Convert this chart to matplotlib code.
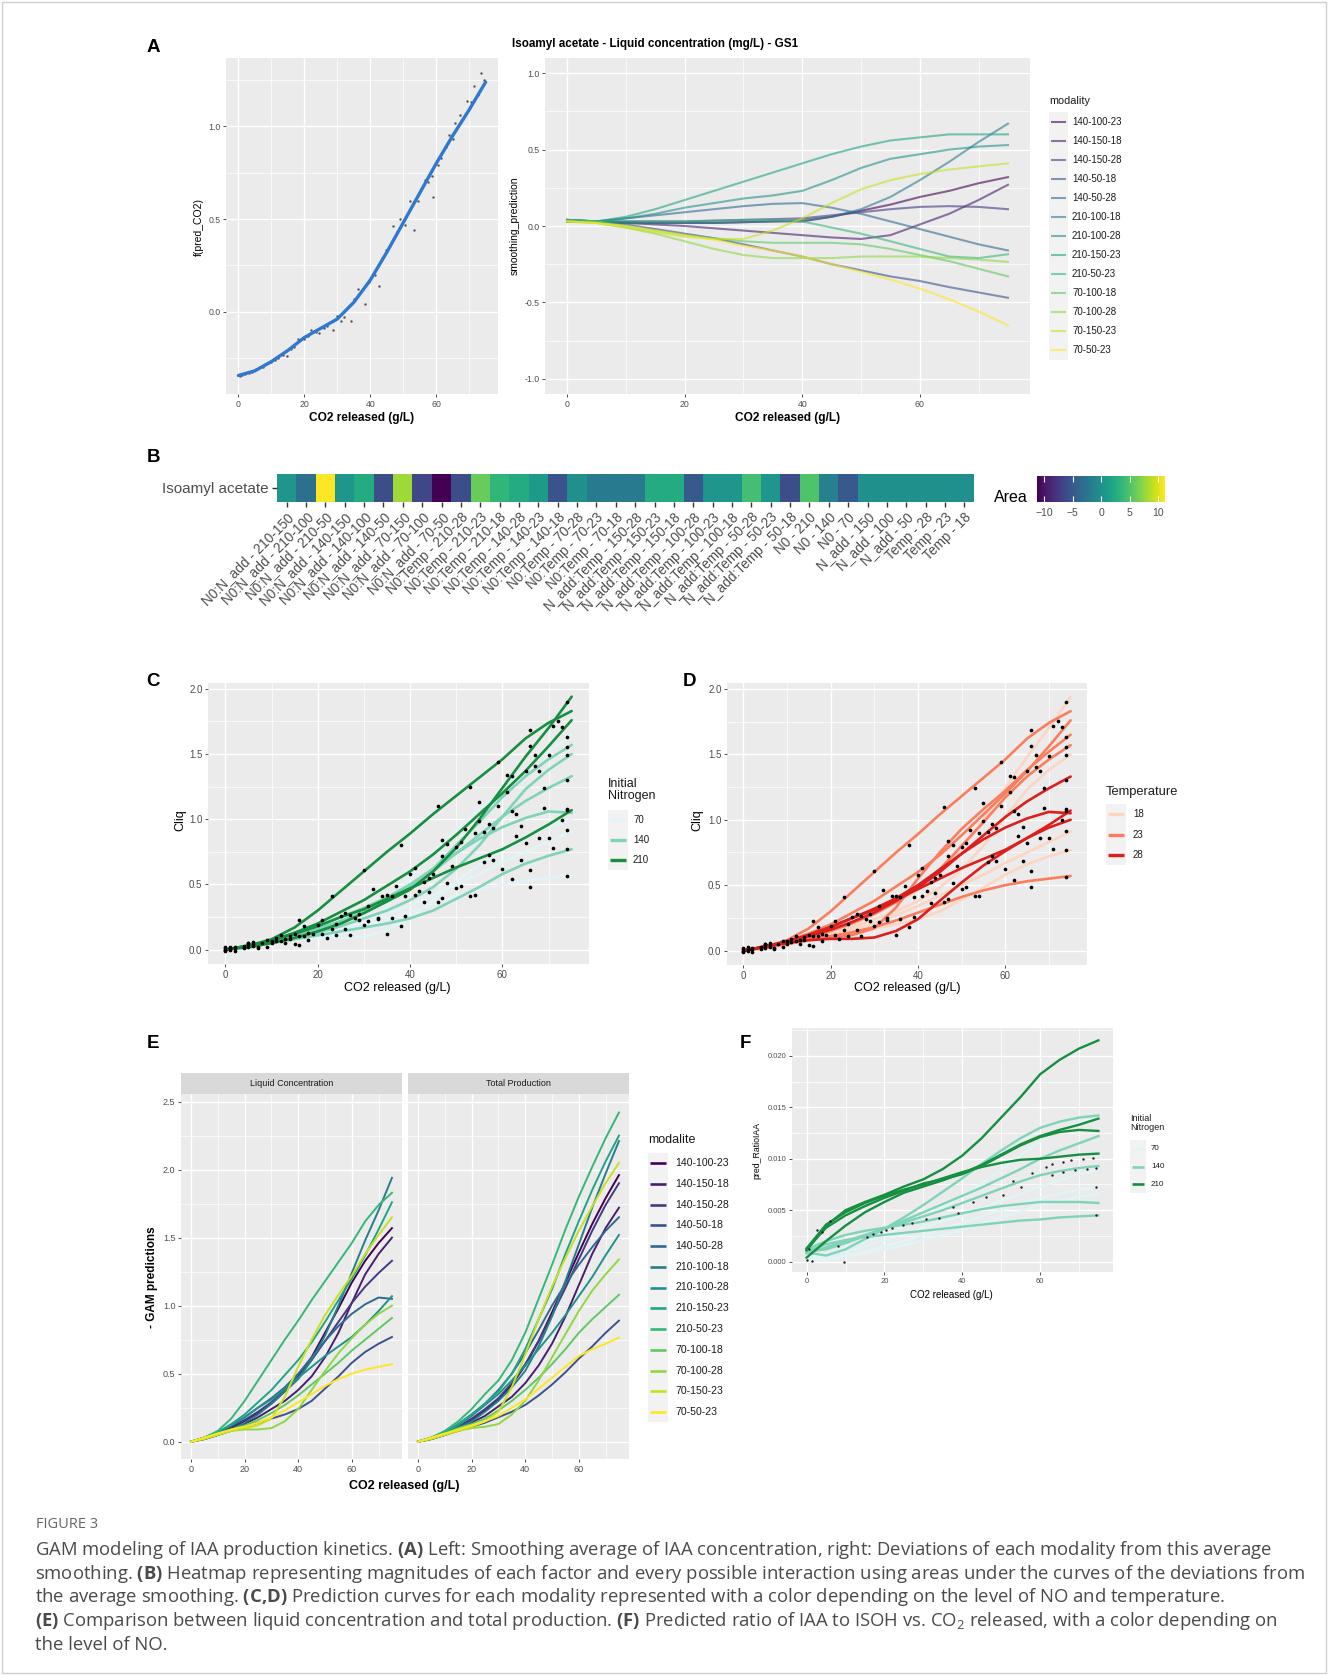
import numpy as np
import matplotlib
matplotlib.use("Agg")
import matplotlib.pyplot as plt
from matplotlib.patches import Rectangle
from matplotlib.lines import Line2D

# ---------------------------------------------------------------- data
modalities = ['140-100-23', '140-150-18', '140-150-28', '140-50-18', '140-50-28',
              '210-100-18', '210-100-28', '210-150-23', '210-50-23',
              '70-100-18', '70-100-28', '70-150-23', '70-50-23']
grid_x = [0, 5, 10, 15, 20, 25, 30, 35, 40, 45, 50, 55, 60, 65, 70, 75]

# Panel A left: average smoothing + observations
avg_smooth_y = [-0.345, -0.32, -0.27, -0.21, -0.14, -0.09, -0.04, 0.05, 0.17, 0.32,
                0.48, 0.64, 0.80, 0.95, 1.09, 1.24]
avg_pts_x = [0.6, 1.2, 2.1, 3.2, 4.0, 5.3, 6.5, 7.5, 9.0, 10, 11, 12, 13.5, 14.9, 16, 17, 18.1,
             20, 21, 22, 23.5, 24.5, 26, 27, 28.8, 29.9, 31, 32, 34.1, 35, 36.2, 38.4, 39.5,
             40.5, 41.5, 42.6, 43.5, 44.8, 46, 46.9, 48, 49, 50.5, 52.2, 53.3, 54.4, 55.5, 56.5,
             57.5, 58.6, 59, 60.5, 61.4, 62.9, 64, 65, 65.7, 67.2, 68, 69.3, 70.5, 71.4, 72.7,
             73.6, 74.5]
avg_pts_y = [-0.35, -0.34, -0.335, -0.33, -0.325, -0.31, -0.30, -0.30, -0.28, -0.27, -0.26,
             -0.25, -0.235, -0.24, -0.2, -0.19, -0.15, -0.15, -0.13, -0.1, -0.11, -0.115, -0.09,
             -0.08, -0.1, -0.025, -0.05, -0.03, -0.05, 0.07, 0.12, 0.04, 0.16, 0.19, 0.2, 0.137,
             0.29, 0.335, 0.36, 0.46, 0.43, 0.50, 0.47, 0.60, 0.44, 0.595, 0.66, 0.71, 0.70,
             0.73, 0.62, 0.79, 0.83, 0.89, 0.955, 0.93, 1.02, 1.06, 1.04, 1.14, 1.13, 1.22,
             1.17, 1.29, 1.25]

# Panel A right: deviations from average smoothing (modality order)
deviation_pred = [
    [0.03, 0.03, 0.025, 0.02, 0.02, 0.02, 0.025, 0.03, 0.03, 0.06, 0.10, 0.14, 0.19, 0.23, 0.28, 0.32],
    [0.03, 0.03, 0.02, 0.01, 0.0, -0.015, -0.03, -0.045, -0.06, -0.075, -0.085, -0.06, 0.01, 0.08, 0.17, 0.27],
    [0.03, 0.03, 0.03, 0.03, 0.03, 0.035, 0.04, 0.045, 0.05, 0.07, 0.09, 0.11, 0.125, 0.13, 0.125, 0.11],
    [0.04, 0.03, 0.01, -0.02, -0.05, -0.08, -0.12, -0.16, -0.2, -0.25, -0.29, -0.33, -0.36, -0.4, -0.435, -0.47],
    [0.03, 0.03, 0.05, 0.07, 0.09, 0.11, 0.13, 0.145, 0.15, 0.12, 0.08, 0.03, -0.02, -0.07, -0.12, -0.16],
    [0.04, 0.03, 0.02, 0.02, 0.02, 0.02, 0.025, 0.03, 0.04, 0.06, 0.11, 0.19, 0.30, 0.42, 0.55, 0.67],
    [0.04, 0.03, 0.05, 0.08, 0.12, 0.15, 0.18, 0.20, 0.23, 0.30, 0.38, 0.44, 0.47, 0.50, 0.52, 0.53],
    [0.04, 0.03, 0.06, 0.11, 0.17, 0.23, 0.29, 0.35, 0.41, 0.47, 0.52, 0.56, 0.58, 0.60, 0.60, 0.60],
    [0.04, 0.03, 0.03, 0.03, 0.03, 0.035, 0.04, 0.04, 0.03, -0.01, -0.05, -0.10, -0.15, -0.20, -0.21, -0.185],
    [0.03, 0.03, 0.0, -0.03, -0.06, -0.08, -0.10, -0.11, -0.11, -0.11, -0.12, -0.15, -0.19, -0.23, -0.28, -0.33],
    [0.03, 0.02, -0.01, -0.05, -0.10, -0.15, -0.19, -0.21, -0.21, -0.21, -0.20, -0.20, -0.20, -0.21, -0.22, -0.235],
    [0.03, 0.02, -0.01, -0.04, -0.07, -0.085, -0.085, -0.03, 0.05, 0.15, 0.24, 0.30, 0.34, 0.37, 0.39, 0.41],
    [0.03, 0.02, 0.0, -0.03, -0.06, -0.09, -0.13, -0.16, -0.20, -0.25, -0.30, -0.35, -0.41, -0.48, -0.56, -0.65],
]

# Panel B: areas under deviation curves
heat_labels = ['N0:N_add - 210-150', 'N0:N_add - 210-100', 'N0:N_add - 210-50',
               'N0:N_add - 140-150', 'N0:N_add - 140-100', 'N0:N_add - 140-50',
               'N0:N_add - 70-150', 'N0:N_add - 70-100', 'N0:N_add - 70-50',
               'N0:Temp - 210-28', 'N0:Temp - 210-23', 'N0:Temp - 210-18',
               'N0:Temp - 140-28', 'N0:Temp - 140-23', 'N0:Temp - 140-18',
               'N0:Temp - 70-28', 'N0:Temp - 70-23', 'N0:Temp - 70-18',
               'N_add:Temp - 150-28', 'N_add:Temp - 150-23', 'N_add:Temp - 150-18',
               'N_add:Temp - 100-28', 'N_add:Temp - 100-23', 'N_add:Temp - 100-18',
               'N_add:Temp - 50-28', 'N_add:Temp - 50-23', 'N_add:Temp - 50-18',
               'N0 - 210', 'N0 - 140', 'N0 - 70',
               'N_add - 150', 'N_add - 100', 'N_add - 50',
               'Temp - 28', 'Temp - 23', 'Temp - 18']
area_values = [0.5, -3.0, 11.2, 0.5, 2.5, -6.0, 8.0, -6.5, -11.3, -6.0, 6.0, 3.5,
               2.5, 1.0, -5.5, 0.0, -2.0, -2.0, -2.0, 2.5, 2.5, -5.0,
               0.5, 0.5, 4.5, 0.5, -6.0, 5.0, -1.5, -5.0,
               0.0, 0.0, 0.0, 0.0, 0.0, 0.0]
colorbar_ticks = [-10, -5, 0, 5, 10]

# Panels C, D, E(left): liquid concentration predictions (modality order)
liquid_pred = [
    [0.0, 0.03, 0.06, 0.10, 0.15, 0.21, 0.28, 0.37, 0.48, 0.62, 0.80, 0.98, 1.17, 1.33, 1.46, 1.57],
    [0.0, 0.02, 0.05, 0.09, 0.13, 0.18, 0.24, 0.30, 0.38, 0.48, 0.62, 0.80, 1.02, 1.23, 1.38, 1.50],
    [0.0, 0.03, 0.06, 0.11, 0.16, 0.22, 0.29, 0.38, 0.48, 0.60, 0.74, 0.88, 1.02, 1.14, 1.24, 1.33],
    [0.0, 0.02, 0.05, 0.08, 0.11, 0.14, 0.17, 0.20, 0.24, 0.30, 0.39, 0.48, 0.58, 0.66, 0.72, 0.77],
    [0.0, 0.03, 0.07, 0.12, 0.18, 0.25, 0.32, 0.40, 0.50, 0.62, 0.74, 0.85, 0.94, 1.01, 1.06, 1.05],
    [0.0, 0.02, 0.05, 0.09, 0.14, 0.20, 0.28, 0.37, 0.46, 0.60, 0.78, 1.00, 1.24, 1.48, 1.70, 1.94],
    [0.0, 0.03, 0.07, 0.12, 0.18, 0.25, 0.31, 0.39, 0.47, 0.55, 0.63, 0.70, 0.77, 0.86, 0.96, 1.07],
    [0.0, 0.03, 0.07, 0.13, 0.20, 0.29, 0.38, 0.49, 0.60, 0.73, 0.88, 1.04, 1.20, 1.37, 1.56, 1.76],
    [0.0, 0.03, 0.08, 0.17, 0.30, 0.45, 0.60, 0.75, 0.89, 1.04, 1.18, 1.32, 1.46, 1.62, 1.74, 1.83],
    [0.0, 0.03, 0.06, 0.09, 0.12, 0.16, 0.21, 0.27, 0.34, 0.42, 0.50, 0.58, 0.67, 0.75, 0.83, 0.91],
    [0.0, 0.03, 0.06, 0.08, 0.09, 0.09, 0.10, 0.15, 0.24, 0.38, 0.52, 0.65, 0.76, 0.86, 0.94, 1.00],
    [0.0, 0.02, 0.05, 0.08, 0.10, 0.12, 0.17, 0.33, 0.55, 0.75, 0.93, 1.08, 1.22, 1.38, 1.52, 1.65],
    [0.0, 0.03, 0.06, 0.09, 0.11, 0.14, 0.18, 0.23, 0.29, 0.35, 0.41, 0.46, 0.50, 0.53, 0.55, 0.57],
]

# observations (CO2 position and residual to the prediction) for C and D
obs_x = [
    [1, 5, 11, 19, 27, 36, 44, 52, 59, 65, 70, 74],
    [0, 4, 9, 16, 24, 33, 41, 48, 56, 62, 68, 74],
    [2, 6, 12, 20, 28, 35, 43, 50, 57, 63, 69, 74],
    [1, 7, 14, 22, 30, 38, 46, 53, 60, 66, 71, 74],
    [0, 5, 13, 21, 29, 37, 45, 51, 58, 64, 69, 74],
    [2, 8, 15, 23, 31, 39, 47, 54, 61, 66, 71, 74],
    [1, 6, 12, 18, 26, 34, 42, 49, 56, 63, 68, 74],
    [0, 4, 10, 17, 25, 32, 40, 47, 55, 62, 67, 73],
    [1, 5, 10, 16, 23, 30, 38, 46, 53, 59, 66, 72],
    [2, 7, 14, 21, 29, 36, 44, 51, 58, 64, 70, 74],
    [0, 6, 13, 15, 16, 27, 35, 43, 50, 57, 65, 73],
    [1, 5, 11, 18, 26, 33, 41, 48, 55, 61, 67, 74],
    [0, 4, 9, 17, 24, 31, 39, 47, 54, 62, 66, 74],
]
obs_res = [
    [0.01, -0.01, 0.02, -0.02, 0.03, 0.02, -0.04, 0.05, -0.03, 0.04, 0.03, 0.01],
    [-0.01, 0.01, -0.02, 0.01, 0.03, -0.03, 0.02, -0.05, 0.06, -0.04, 0.05, 0.02],
    [0.0, 0.02, -0.01, 0.03, -0.02, 0.04, -0.03, 0.05, 0.03, -0.05, 0.02, -0.01],
    [0.02, -0.02, 0.01, -0.03, 0.02, -0.04, 0.05, -0.03, 0.04, -0.06, 0.05, 0.01],
    [0.0, 0.02, -0.02, 0.03, -0.03, 0.05, -0.04, 0.06, 0.03, -0.05, 0.04, 0.03],
    [-0.02, 0.01, 0.03, -0.02, 0.04, -0.03, 0.05, -0.06, 0.05, 0.04, -0.03, 0.01],
    [0.01, -0.01, 0.02, -0.03, 0.02, 0.04, -0.05, 0.03, -0.04, 0.05, -0.06, 0.02],
    [0.02, 0.0, -0.02, 0.02, -0.03, 0.04, -0.02, 0.05, -0.05, 0.06, -0.04, 0.03],
    [0.0, 0.02, -0.01, 0.03, 0.02, 0.01, -0.03, 0.03, -0.02, 0.01, 0.04, -0.02],
    [0.01, -0.02, 0.02, -0.01, 0.03, -0.04, 0.04, -0.03, 0.05, -0.05, 0.03, 0.02],
    [0.0, 0.01, -0.02, -0.04, -0.05, 0.02, -0.03, 0.04, -0.05, 0.03, -0.04, 0.02],
    [-0.01, 0.02, 0.01, -0.02, 0.03, -0.03, 0.04, -0.05, 0.05, -0.04, 0.06, 0.01],
    [0.01, -0.01, 0.02, 0.01, -0.02, 0.03, -0.02, 0.02, -0.03, 0.03, -0.05, 0.0],
]

# Panel E right: total production predictions
total_pred = [
    [0.0, 0.03, 0.06, 0.10, 0.16, 0.23, 0.31, 0.42, 0.56, 0.74, 0.95, 1.17, 1.39, 1.60, 1.79, 1.96],
    [0.0, 0.02, 0.05, 0.09, 0.14, 0.19, 0.26, 0.33, 0.43, 0.56, 0.72, 0.92, 1.15, 1.38, 1.57, 1.72],
    [0.0, 0.03, 0.06, 0.11, 0.17, 0.24, 0.32, 0.43, 0.57, 0.74, 0.93, 1.13, 1.34, 1.55, 1.74, 1.90],
    [0.0, 0.02, 0.05, 0.08, 0.11, 0.14, 0.18, 0.22, 0.27, 0.34, 0.42, 0.51, 0.61, 0.70, 0.80, 0.89],
    [0.0, 0.03, 0.07, 0.13, 0.20, 0.28, 0.38, 0.50, 0.65, 0.82, 1.00, 1.16, 1.30, 1.43, 1.55, 1.65],
    [0.0, 0.02, 0.05, 0.10, 0.15, 0.22, 0.30, 0.40, 0.52, 0.70, 0.92, 1.18, 1.45, 1.72, 1.97, 2.21],
    [0.0, 0.03, 0.07, 0.12, 0.19, 0.27, 0.35, 0.45, 0.56, 0.68, 0.80, 0.93, 1.07, 1.21, 1.37, 1.52],
    [0.0, 0.03, 0.07, 0.13, 0.20, 0.28, 0.37, 0.50, 0.68, 0.90, 1.12, 1.38, 1.62, 1.85, 2.06, 2.25],
    [0.0, 0.03, 0.08, 0.15, 0.24, 0.35, 0.45, 0.60, 0.80, 1.05, 1.30, 1.56, 1.80, 2.02, 2.23, 2.42],
    [0.0, 0.03, 0.06, 0.10, 0.13, 0.17, 0.23, 0.30, 0.38, 0.47, 0.57, 0.68, 0.80, 0.90, 0.99, 1.08],
    [0.0, 0.03, 0.06, 0.08, 0.10, 0.11, 0.13, 0.20, 0.30, 0.45, 0.62, 0.79, 0.96, 1.11, 1.23, 1.34],
    [0.0, 0.02, 0.05, 0.08, 0.11, 0.15, 0.22, 0.40, 0.64, 0.90, 1.14, 1.35, 1.55, 1.73, 1.90, 2.05],
    [0.0, 0.03, 0.06, 0.09, 0.12, 0.15, 0.19, 0.25, 0.31, 0.39, 0.47, 0.55, 0.63, 0.68, 0.72, 0.765],
]

# Panel F: predicted ratio IAA / ISOH
ratio_n0 = [210, 210, 210, 210, 140, 140, 140, 140, 140, 70, 70, 70, 70]
ratio_pred = [
    [0.0011, 0.0035, 0.0050, 0.0058, 0.0065, 0.0073, 0.0080, 0.0090, 0.0103, 0.0120, 0.0140, 0.0160, 0.0182, 0.0196, 0.0207, 0.0215],
    [0.0004, 0.0020, 0.0035, 0.0048, 0.0058, 0.0067, 0.0073, 0.0079, 0.0086, 0.0094, 0.0104, 0.0114, 0.0122, 0.0128, 0.0133, 0.0139],
    [0.0012, 0.0033, 0.0045, 0.0054, 0.0062, 0.0069, 0.0076, 0.0080, 0.0085, 0.0093, 0.0103, 0.0113, 0.0121, 0.0126, 0.0128, 0.0127],
    [0.0013, 0.0036, 0.0048, 0.0057, 0.0064, 0.0070, 0.0075, 0.0081, 0.0087, 0.0092, 0.0096, 0.0099, 0.0100, 0.0102, 0.0104, 0.0105],
    [0.0009, 0.0006, 0.0012, 0.0022, 0.0032, 0.0043, 0.0055, 0.0068, 0.0081, 0.0095, 0.0108, 0.0120, 0.0130, 0.0136, 0.0140, 0.0142],
    [0.0010, 0.0012, 0.0018, 0.0025, 0.0032, 0.0040, 0.0048, 0.0056, 0.0064, 0.0072, 0.0081, 0.0090, 0.0100, 0.0108, 0.0115, 0.0122],
    [0.0008, 0.0014, 0.0020, 0.0026, 0.0032, 0.0038, 0.0044, 0.0050, 0.0057, 0.0064, 0.0071, 0.0078, 0.0084, 0.0088, 0.0091, 0.0093],
    [0.0012, 0.0020, 0.0026, 0.0030, 0.0033, 0.0036, 0.0039, 0.0043, 0.0047, 0.0051, 0.0054, 0.0056, 0.0058, 0.0058, 0.0058, 0.0057],
    [0.0010, 0.0017, 0.0021, 0.0024, 0.0026, 0.0028, 0.0030, 0.0032, 0.0034, 0.0036, 0.0038, 0.0040, 0.0041, 0.0043, 0.0044, 0.0045],
    [0.0002, 0.0003, 0.0006, 0.0010, 0.0015, 0.0020, 0.0026, 0.0032, 0.0038, 0.0044, 0.0050, 0.0056, 0.0062, 0.0066, 0.0070, 0.0073],
    [0.0001, 0.0002, 0.0005, 0.0008, 0.0012, 0.0016, 0.0021, 0.0026, 0.0031, 0.0037, 0.0043, 0.0049, 0.0055, 0.0059, 0.0063, 0.0066],
    [0.0005, 0.0008, 0.0013, 0.0019, 0.0026, 0.0034, 0.0043, 0.0053, 0.0064, 0.0076, 0.0089, 0.0103, 0.0117, 0.0128, 0.0136, 0.0141],
    [0.0003, 0.0006, 0.0010, 0.0015, 0.0021, 0.0027, 0.0033, 0.0039, 0.0045, 0.0052, 0.0059, 0.0066, 0.0073, 0.0079, 0.0085, 0.0090],
]
ratio_pts_x = [0.2, 0.5, 1.5, 2.6, 4, 6, 8, 9.5, 15.4, 17, 19, 20.5, 22, 24.8, 27, 30.8, 34, 37.6,
               39, 42.7, 46, 50.4, 53, 55, 58, 61.5, 63, 65.8, 68, 71, 73.5, 63, 66, 69, 72, 74.5,
               74.5, 74.5]
ratio_pts_y = [0.0002, 0.0012, 0.0001, 0.0031, 0.0029, 0.0040, 0.0015, 0.0, 0.0024, 0.0027, 0.0029,
               0.0031, 0.0033, 0.0036, 0.0038, 0.0041, 0.0042, 0.0053, 0.0047, 0.0058, 0.0063, 0.0065,
               0.0078, 0.0073, 0.0086, 0.0092, 0.0095, 0.0097, 0.0099, 0.0100, 0.0101, 0.0084, 0.0087,
               0.0089, 0.0090, 0.0091, 0.0073, 0.0045]

n0_levels = ['70', '140', '210']
temp_levels = ['18', '23', '28']
n0_colors = {'70': '#e2f4f7', '140': '#7fd3b9', '210': '#168f41'}
temp_colors = {'18': '#fdd5c2', '23': '#fb7d5d', '28': '#dc1f1c'}

caption_lines = [
    r"GAM modeling of IAA production kinetics. $\mathbf{(A)}$ Left: Smoothing average of IAA concentration, right: Deviations of each modality from this average",
    r"smoothing. $\mathbf{(B)}$ Heatmap representing magnitudes of each factor and every possible interaction using areas under the curves of the deviations from",
    r"the average smoothing. $\mathbf{(C{,}D)}$ Prediction curves for each modality represented with a color depending on the level of NO and temperature.",
    r"$\mathbf{(E)}$ Comparison between liquid concentration and total production. $\mathbf{(F)}$ Predicted ratio of IAA to ISOH vs. CO$_\mathrm{2}$ released, with a color depending on",
    r"the level of NO.",
]

# ---------------------------------------------------------------- setup
plt.rcParams['font.family'] = ['Liberation Sans', 'DejaVu Sans']
plt.rcParams['mathtext.fontset'] = 'custom'
plt.rcParams['mathtext.rm'] = 'Open Sans'
plt.rcParams['mathtext.it'] = 'Open Sans:italic'
plt.rcParams['mathtext.bf'] = 'Open Sans:bold'

W, H = 1328, 1675
fig = plt.figure(figsize=(W / 100, H / 100), dpi=100)
fig.patch.set_facecolor('white')


def fx(x):
    return x / W


def fy(y):
    return 1 - y / H


def px_axes(x0, y0, x1, y1):
    return fig.add_axes([x0 / W, 1 - y1 / H, (x1 - x0) / W, (y1 - y0) / H])


def gg(ax, xlim, ylim, yt, ym, yfmt, fs):
    ax.set_facecolor('#ebebeb')
    for s in ax.spines.values():
        s.set_visible(False)
    ax.set_xlim(*xlim)
    ax.set_ylim(*ylim)
    xt = [0, 20, 40, 60]
    ax.set_xticks(xt)
    ax.set_xticklabels([str(v) for v in xt])
    ax.set_xticks([10, 30, 50, 70], minor=True)
    ax.set_yticks(yt)
    ax.set_yticklabels([yfmt.format(v) for v in yt])
    ax.set_yticks(ym, minor=True)
    ax.grid(True, which='major', color='white', lw=1.0)
    ax.grid(True, which='minor', color='white', lw=0.5)
    ax.set_axisbelow(True)
    ax.tick_params(which='major', length=2.5, width=0.6, color='#333333',
                   labelsize=fs, labelcolor='#4d4d4d', pad=1.5)
    ax.tick_params(which='minor', length=0)


def legend(title, labels, colors, x0, title_y, y0, dy, key_w, lab_x, fs, tfs, lw, alpha=1.0):
    fig.text(fx(x0), fy(title_y), title, fontsize=tfs, va='center', ha='left', color='#1a1a1a',
             linespacing=1.0)
    for i, (lab, c) in enumerate(zip(labels, colors)):
        y = y0 + i * dy
        fig.add_artist(Rectangle((fx(x0), fy(y + dy / 2)), key_w / W, dy / H,
                                 transform=fig.transFigure, facecolor='#f2f2f2', edgecolor='none'))
        fig.add_artist(Line2D([fx(x0 + 2), fx(x0 + key_w - 2)], [fy(y), fy(y)],
                              transform=fig.transFigure, color=c, lw=lw, alpha=alpha,
                              solid_capstyle='butt'))
        fig.text(fx(lab_x), fy(y), lab, fontsize=fs, va='center', ha='left', color='#1a1a1a')


XLIM = (-3.75, 78.75)
vir = plt.cm.viridis(np.linspace(0, 1, len(modalities)))
mod_n0 = [m.split('-')[0] for m in modalities]
mod_temp = [m.split('-')[2] for m in modalities]

# frame
fig.add_artist(Rectangle((2 / W, 2 / H), (W - 4) / W, (H - 4) / H, transform=fig.transFigure,
                         facecolor='none', edgecolor='#cfcfcf', lw=1.0))

# panel letters
for lab, (x, y) in zip('ABCDEF', [(153, 48), (153, 458), (153, 682), (690, 682), (153, 1044), (745, 1044)]):
    fig.text(fx(x), fy(y), lab, fontsize=13.5, fontweight='bold', ha='center', va='center')

# ---------------------------------------------------------------- Panel A left
axA1 = px_axes(226, 58, 498, 394)
gg(axA1, XLIM, (-0.445, 1.37), [0.0, 0.5, 1.0], [-0.25, 0.25, 0.75, 1.25], '{:.1f}', 6.3)
axA1.scatter(avg_pts_x, avg_pts_y, s=3, color='#555555', lw=0, zorder=2)
axA1.plot(grid_x, avg_smooth_y, color='#2f78d0', lw=2.4, zorder=3, solid_capstyle='round')
fig.text(fx(362), fy(418), 'CO2 released (g/L)', fontsize=8.6, fontweight='bold', ha='center', va='center')
fig.text(fx(199), fy(227), 'f(pred_CO2)', fontsize=7.5, ha='center', va='center', rotation=90)

# ---------------------------------------------------------------- Panel A right
axA2 = px_axes(545, 58, 1030, 394)
gg(axA2, XLIM, (-1.1, 1.1), [-1.0, -0.5, 0.0, 0.5, 1.0], [-0.75, -0.25, 0.25, 0.75], '{:.1f}', 6.3)
for i, m in enumerate(modalities):
    axA2.plot(grid_x, deviation_pred[i], color=vir[i], lw=1.5, alpha=0.6)
fig.text(fx(788), fy(418), 'CO2 released (g/L)', fontsize=8.6, fontweight='bold', ha='center', va='center')
fig.text(fx(515), fy(226), 'smoothing_prediction', fontsize=7.5, ha='center', va='center', rotation=90)
fig.text(fx(512), fy(44), 'Isoamyl acetate - Liquid concentration (mg/L) - GS1', fontsize=8.4,
         fontweight='bold', ha='left', va='center')
legend('modality', modalities, vir, 1049, 101, 121.6, 19.05, 19, 1072, 7, 7.8, 1.5, alpha=0.6)

# ---------------------------------------------------------------- Panel B heatmap
vmin, vmax = min(area_values), max(area_values)
axB = px_axes(277, 474, 974, 502)
axB.imshow(np.array(area_values)[None, :], cmap='viridis', vmin=vmin, vmax=vmax, aspect='auto',
           extent=[-0.5, len(area_values) - 0.5, -0.5, 0.5], interpolation='nearest')
for s in axB.spines.values():
    s.set_visible(False)
axB.set_xticks(range(len(heat_labels)))
axB.set_xticklabels(heat_labels, rotation=45, ha='right', va='top', rotation_mode='anchor',
                    fontsize=9.8, color='#4d4d4d')
axB.set_yticks([0])
axB.set_yticklabels(['Isoamyl acetate'], fontsize=11, color='#4d4d4d')
axB.tick_params(length=3.5, width=1.0, color='#333333', pad=2.5)

axCB = px_axes(1037, 476, 1165, 502)
axCB.imshow(np.linspace(vmin, vmax, 256)[None, :], cmap='viridis', aspect='auto',
            extent=[vmin, vmax, 0, 1])
for s in axCB.spines.values():
    s.set_visible(False)
axCB.set_yticks([])
axCB.set_xticks(colorbar_ticks)
axCB.set_xticklabels(['\u221210', '\u22125', '0', '5', '10'], fontsize=7.5, color='#4d4d4d')
axCB.tick_params(axis='x', direction='in', color='white', length=4, width=0.8, top=True,
                 bottom=True, pad=4)
fig.text(fx(1011), fy(497), 'Area', fontsize=11.5, ha='center', va='center')

# ---------------------------------------------------------------- Panels C and D


def draw_cd(ax, group, levels, cmap):
    order = sorted(range(len(modalities)), key=lambda i: levels.index(group[i]))
    for i in order:
        ax.plot(grid_x, liquid_pred[i], color=cmap[group[i]], lw=1.9, zorder=2,
                solid_capstyle='round')
    for i in order:
        oy = np.interp(obs_x[i], grid_x, liquid_pred[i]) + np.array(obs_res[i])
        ax.scatter(obs_x[i], oy, s=7, color='black', lw=0, zorder=3)


axC = px_axes(208, 683, 589, 964)
gg(axC, XLIM, (-0.11, 2.045), [0.0, 0.5, 1.0, 1.5, 2.0], [0.25, 0.75, 1.25, 1.75], '{:.1f}', 7)
draw_cd(axC, mod_n0, n0_levels, n0_colors)
fig.text(fx(397), fy(988), 'CO2 released (g/L)', fontsize=9, ha='center', va='center')
fig.text(fx(180), fy(820), 'Cliq', fontsize=9, ha='center', va='center', rotation=90)
legend('Initial\nNitrogen', n0_levels, [n0_colors[k] for k in n0_levels], 608, 790, 820, 20,
       20, 633, 7, 9, 2.4)

axD = px_axes(727, 683, 1087, 965)
gg(axD, XLIM, (-0.11, 2.045), [0.0, 0.5, 1.0, 1.5, 2.0], [0.25, 0.75, 1.25, 1.75], '{:.1f}', 7)
draw_cd(axD, mod_temp, temp_levels, temp_colors)
fig.text(fx(907), fy(988), 'CO2 released (g/L)', fontsize=9, ha='center', va='center')
fig.text(fx(697), fy(820), 'Cliq', fontsize=9, ha='center', va='center', rotation=90)
legend('Temperature', temp_levels, [temp_colors[k] for k in temp_levels], 1106, 792, 814, 20.5,
       20, 1133, 7, 9.3, 2.4)

# ---------------------------------------------------------------- Panel E
E_ylim = (-0.127, 2.556)
for j, (x0, x1, title, data) in enumerate([(181, 402, 'Liquid Concentration', liquid_pred),
                                           (408, 629, 'Total Production', total_pred)]):
    ax = px_axes(x0, 1094, x1, 1459)
    gg(ax, XLIM, E_ylim, [0.0, 0.5, 1.0, 1.5, 2.0, 2.5], [0.25, 0.75, 1.25, 1.75, 2.25], '{:.1f}', 6.5)
    if j == 1:
        ax.tick_params(axis='y', which='both', left=False, labelleft=False)
    for i in range(len(modalities)):
        ax.plot(grid_x, data[i], color=vir[i], lw=1.4)
    sx = px_axes(x0, 1073, x1, 1094)
    sx.set_facecolor('#d9d9d9')
    sx.set_xticks([])
    sx.set_yticks([])
    for s in sx.spines.values():
        s.set_visible(False)
    sx.text(0.5, 0.5, title, transform=sx.transAxes, fontsize=6.5, ha='center', va='center',
            color='#1a1a1a')
fig.text(fx(404), fy(1486), 'CO2 released (g/L)', fontsize=9, fontweight='bold', ha='center', va='center')
fig.text(fx(152), fy(1277), '- GAM predictions', fontsize=8.5, fontweight='bold', ha='center',
         va='center', rotation=90)
legend('modalite', modalities, vir, 648, 1140, 1163, 20.75, 20, 675, 7.6, 9, 1.9)

# ---------------------------------------------------------------- Panel F
axF = px_axes(792, 1028, 1113, 1272)
gg(axF, XLIM, (-0.001, 0.0227), [0.0, 0.005, 0.010, 0.015, 0.020],
   [0.0025, 0.0075, 0.0125, 0.0175, 0.0225], '{:.3f}', 5.5)
order = sorted(range(len(ratio_n0)), key=lambda i: n0_levels.index(str(ratio_n0[i])))
for i in order:
    axF.plot(grid_x, ratio_pred[i], color=n0_colors[str(ratio_n0[i])], lw=1.7)
axF.scatter(ratio_pts_x, ratio_pts_y, s=3, color='#222222', lw=0, zorder=3)
fig.text(fx(951), fy(1295), 'CO2 released (g/L)', fontsize=7, ha='center', va='center')
fig.text(fx(757), fy(1150), 'pred_RatioIAA', fontsize=6.3, ha='center', va='center', rotation=90)
legend('Initial\nNitrogen', n0_levels, [n0_colors[k] for k in n0_levels], 1130, 1123, 1149, 17.5,
       16, 1151, 5.8, 6.5, 1.9)

# ---------------------------------------------------------------- caption
fig.text(fx(36), fy(1525), 'FIGURE 3', fontsize=10.5, color='#666666', ha='left', va='center',
         family='Open Sans')
for k, line in enumerate(caption_lines):
    fig.text(fx(35), fy(1550 + k * 23.7), line, fontsize=13.3, color='#4a4a4a', ha='left',
             va='center', family='Open Sans')

fig.savefig('out.png', dpi=100)
